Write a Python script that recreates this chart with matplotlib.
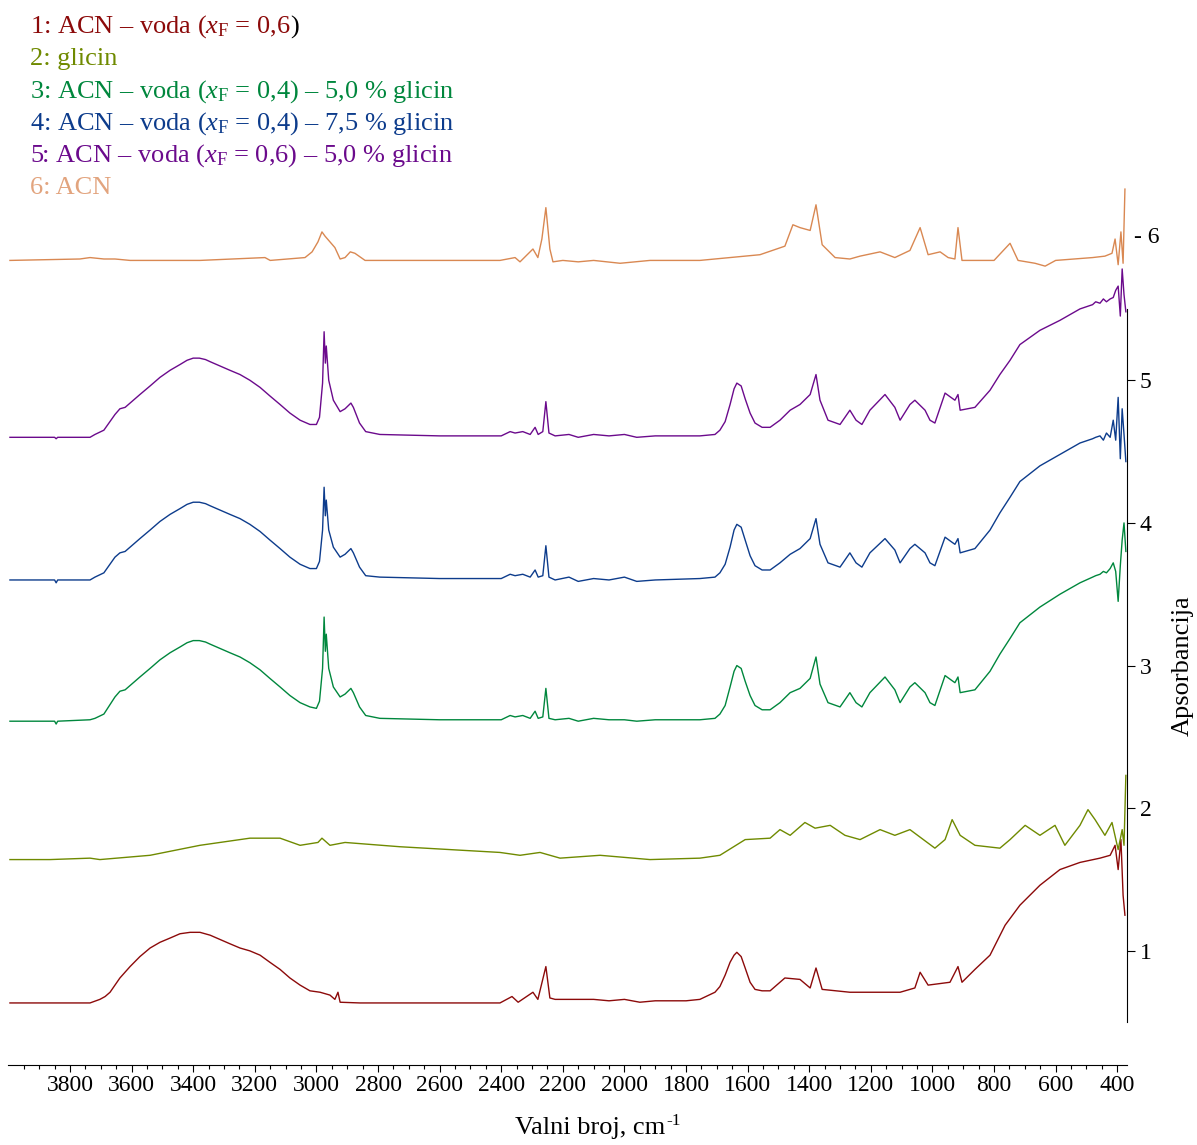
import matplotlib
matplotlib.use('Agg')
import matplotlib.pyplot as plt
import matplotlib.transforms as mtransforms
import numpy as np

plt.rcParams['font.family'] = 'Liberation Serif'
plt.rcParams['mathtext.fontset'] = 'custom'
plt.rcParams['mathtext.rm'] = 'Liberation Serif'
plt.rcParams['mathtext.it'] = 'Liberation Serif:italic'

# 1: ACN - voda (xF = 0,6)
wn1 = [3995, 3735, 3703, 3686, 3670, 3654, 3638, 3605, 3573, 3540,
       3508, 3475, 3443, 3410, 3378, 3345, 3313, 3281, 3248, 3216,
       3183, 3151, 3118, 3086, 3053, 3021, 2988, 2956, 2940, 2930,
       2923, 2859, 2404, 2365, 2345, 2297, 2281, 2255, 2242, 2225,
       2100, 2050, 2000, 1950, 1900, 1800, 1755, 1706, 1690, 1673,
       1657, 1644, 1635, 1621, 1608, 1592, 1576, 1553, 1527, 1479,
       1430, 1397, 1378, 1358, 1268, 1105, 1057, 1040, 1014, 943,
       917, 904, 862, 813, 764, 716, 651, 586, 521, 456,
       423, 407, 397, 388, 381, 375]
a1 = [0.635, 0.635, 0.66, 0.68, 0.71, 0.76, 0.81, 0.89, 0.96, 1.02,
      1.06, 1.09, 1.12, 1.13, 1.13, 1.11, 1.08, 1.05, 1.02, 1.00,
      0.97, 0.92, 0.87, 0.81, 0.76, 0.72, 0.71, 0.69, 0.66, 0.71,
      0.64, 0.635, 0.635, 0.68, 0.64, 0.71, 0.66, 0.89, 0.67, 0.66,
      0.66, 0.65, 0.66, 0.64, 0.65, 0.65, 0.66, 0.71, 0.75, 0.83,
      0.92, 0.97, 0.99, 0.96, 0.88, 0.78, 0.73, 0.72, 0.72, 0.81,
      0.80, 0.74, 0.88, 0.73, 0.71, 0.71, 0.74, 0.85, 0.76, 0.78,
      0.89, 0.78, 0.87, 0.97, 1.18, 1.32, 1.46, 1.57, 1.62, 1.65,
      1.67, 1.74, 1.57, 1.78, 1.39, 1.25]

# 2: glicin
wn2 = [3995, 3865, 3735, 3703, 3540, 3378, 3216, 3118, 3053, 2995,
       2982, 2956, 2907, 2729, 2404, 2339, 2274, 2209, 2079, 1917,
       1755, 1690, 1608, 1527, 1495, 1462, 1414, 1381, 1332, 1284,
       1235, 1170, 1122, 1073, 992, 959, 936, 910, 862, 781,
       748, 699, 651, 602, 570, 521, 495, 472, 440, 417,
       397, 384, 378, 372]
a2 = [1.64, 1.64, 1.65, 1.64, 1.67, 1.74, 1.79, 1.79, 1.74, 1.76,
      1.79, 1.74, 1.76, 1.73, 1.69, 1.67, 1.69, 1.65, 1.67, 1.64,
      1.65, 1.67, 1.78, 1.79, 1.85, 1.81, 1.90, 1.86, 1.88, 1.81,
      1.78, 1.85, 1.81, 1.85, 1.72, 1.78, 1.92, 1.81, 1.74, 1.72,
      1.78, 1.88, 1.81, 1.88, 1.74, 1.88, 1.99, 1.92, 1.81, 1.90,
      1.71, 1.85, 1.74, 2.23]

# 3, 4, 5: ACN - voda - glicin, read on one wavenumber grid
wn_sol = ([3995, 3850, 3845, 3840, 3735, 3719, 3690]
          + [3654, 3638, 3621, 3605, 3573, 3540, 3508, 3475, 3443, 3420, 3400, 3380,
             3360, 3345, 3313, 3281, 3248, 3216, 3183, 3151, 3118, 3086, 3053, 3021]
          + [3000, 2990, 2980, 2975, 2971, 2968, 2960, 2945, 2923, 2907, 2888, 2880,
             2860, 2840, 2794]
          + [2600, 2400, 2371, 2355, 2330, 2306, 2290, 2280, 2265, 2255, 2245, 2225,
             2180, 2150, 2100, 2050, 2000, 1960, 1900]
          + [1755, 1706, 1690, 1673, 1657, 1644, 1635, 1621, 1608, 1592, 1576, 1553, 1527]
          + [1495, 1462, 1430, 1397, 1378, 1365, 1339, 1300, 1268, 1248, 1229, 1203,
             1154, 1122, 1105, 1073, 1057, 1024, 1008, 992, 959, 940, 927, 917, 910,
             862, 813, 781, 748, 716, 651, 586, 521]
          + [480, 470, 456, 445, 435, 423, 413, 405, 397, 390, 384, 378, 372])
a3 = ([2.61, 2.61, 2.59, 2.61, 2.62, 2.63, 2.66]
      + [2.78, 2.82, 2.83, 2.86, 2.92, 2.98, 3.04, 3.09, 3.13, 3.16, 3.175, 3.175,
         3.165, 3.15, 3.12, 3.09, 3.06, 3.02, 2.97, 2.91, 2.85, 2.79, 2.74, 2.71]
      + [2.70, 2.75, 2.98, 3.34, 3.10, 3.22, 2.98, 2.85, 2.78, 2.80, 2.84, 2.81,
         2.71, 2.65, 2.63]
      + [2.62, 2.62, 2.65, 2.64, 2.65, 2.63, 2.68, 2.63, 2.64, 2.84, 2.63, 2.62,
         2.63, 2.61, 2.63, 2.62, 2.62, 2.61, 2.62]
      + [2.62, 2.63, 2.66, 2.72, 2.85, 2.96, 3.00, 2.98, 2.89, 2.79, 2.72, 2.69, 2.69]
      + [2.74, 2.81, 2.84, 2.91, 3.06, 2.87, 2.74, 2.71, 2.81, 2.74, 2.71, 2.81,
         2.92, 2.83, 2.74, 2.85, 2.88, 2.81, 2.74, 2.72, 2.93, 2.90, 2.88, 2.92, 2.81,
         2.83, 2.96, 3.08, 3.19, 3.30, 3.41, 3.50, 3.58]
      + [3.62, 3.63, 3.64, 3.66, 3.65, 3.68, 3.72, 3.66, 3.45, 3.70, 3.88, 4.00, 3.80])
a4 = ([3.60, 3.60, 3.58, 3.60, 3.60, 3.62, 3.65]
      + [3.76, 3.79, 3.80, 3.83, 3.89, 3.95, 4.01, 4.06, 4.10, 4.13, 4.145, 4.145,
         4.135, 4.12, 4.09, 4.06, 4.03, 3.99, 3.94, 3.88, 3.82, 3.76, 3.71, 3.68]
      + [3.68, 3.73, 3.95, 4.25, 4.05, 4.16, 3.95, 3.83, 3.76, 3.78, 3.82, 3.79,
         3.69, 3.63, 3.62]
      + [3.61, 3.61, 3.64, 3.63, 3.64, 3.62, 3.67, 3.62, 3.63, 3.84, 3.62, 3.60,
         3.62, 3.59, 3.61, 3.60, 3.62, 3.59, 3.60]
      + [3.61, 3.62, 3.65, 3.71, 3.83, 3.95, 3.99, 3.97, 3.88, 3.77, 3.70, 3.67, 3.67]
      + [3.72, 3.78, 3.82, 3.89, 4.03, 3.85, 3.72, 3.69, 3.79, 3.72, 3.69, 3.79,
         3.89, 3.81, 3.72, 3.82, 3.85, 3.79, 3.72, 3.70, 3.90, 3.87, 3.85, 3.89, 3.79,
         3.82, 3.95, 4.07, 4.18, 4.29, 4.40, 4.48, 4.56]
      + [4.59, 4.60, 4.61, 4.58, 4.63, 4.60, 4.72, 4.58, 4.88, 4.45, 4.80, 4.62, 4.43])
a5 = ([4.60, 4.60, 4.59, 4.60, 4.60, 4.62, 4.65]
      + [4.76, 4.80, 4.81, 4.84, 4.90, 4.96, 5.02, 5.07, 5.11, 5.14, 5.155, 5.155,
         5.145, 5.13, 5.10, 5.07, 5.04, 5.00, 4.95, 4.89, 4.83, 4.77, 4.72, 4.69]
      + [4.69, 4.74, 4.98, 5.34, 5.12, 5.24, 5.00, 4.86, 4.78, 4.80, 4.84, 4.81,
         4.70, 4.64, 4.62]
      + [4.61, 4.61, 4.64, 4.63, 4.64, 4.62, 4.67, 4.62, 4.64, 4.85, 4.63, 4.61,
         4.62, 4.60, 4.62, 4.61, 4.62, 4.60, 4.61]
      + [4.61, 4.62, 4.65, 4.71, 4.83, 4.94, 4.98, 4.96, 4.87, 4.77, 4.70, 4.67, 4.67]
      + [4.72, 4.79, 4.83, 4.90, 5.04, 4.86, 4.72, 4.69, 4.79, 4.72, 4.69, 4.79,
         4.90, 4.81, 4.72, 4.83, 4.86, 4.79, 4.72, 4.70, 4.91, 4.88, 4.86, 4.90, 4.79,
         4.81, 4.93, 5.04, 5.14, 5.25, 5.35, 5.42, 5.50]
      + [5.53, 5.55, 5.54, 5.57, 5.55, 5.57, 5.58, 5.63, 5.66, 5.45, 5.78, 5.60, 5.48])

# 6: ACN
wn6 = [3995, 3768, 3735, 3690, 3654, 3605, 3378, 3167, 3150, 3037,
       3014, 2995, 2982, 2972, 2956, 2940, 2923, 2907, 2890, 2875,
       2842, 2794, 2404, 2355, 2339, 2297, 2281, 2268, 2255, 2242,
       2232, 2200, 2150, 2100, 2014, 1917, 1755, 1560, 1479, 1453,
       1430, 1397, 1378, 1358, 1316, 1268, 1235, 1170, 1122, 1073,
       1040, 1014, 975, 949, 927, 917, 904, 800, 748, 722,
       667, 634, 600, 540, 480, 440, 417, 407, 397, 388,
       381, 375]
a6 = [5.84, 5.85, 5.86, 5.85, 5.85, 5.84, 5.84, 5.86, 5.84, 5.86,
      5.90, 5.97, 6.04, 6.01, 5.97, 5.93, 5.85, 5.86, 5.90, 5.89,
      5.84, 5.84, 5.84, 5.86, 5.83, 5.92, 5.86, 5.99, 6.21, 5.92,
      5.83, 5.84, 5.83, 5.84, 5.82, 5.84, 5.84, 5.88, 5.94, 6.09,
      6.07, 6.05, 6.23, 5.95, 5.86, 5.85, 5.87, 5.90, 5.86, 5.91,
      6.07, 5.88, 5.90, 5.86, 5.85, 6.07, 5.84, 5.84, 5.96, 5.84,
      5.82, 5.80, 5.84, 5.85, 5.86, 5.87, 5.89, 5.99, 5.81, 6.04,
      5.82, 6.34]

labels = ['1: ACN \u2013 voda ($x_\\mathrm{F}$ = 0,6',
          '2: glicin',
          '3: ACN \u2013 voda ($x_\\mathrm{F}$ = 0,4) \u2013 5,0 % glicin',
          '4: ACN \u2013 voda ($x_\\mathrm{F}$ = 0,4) \u2013 7,5 % glicin',
          '5: ACN \u2013 voda ($x_\\mathrm{F}$ = 0,6) \u2013 5,0 % glicin',
          '6: ACN']
line_colors = ['#8c0a0a', '#6f8a00', '#00873d', '#0d3c8c', '#6b0a8c', '#d98852']
text_colors = ['#8c0a0a', '#6f8a00', '#00873d', '#0d3c8c', '#6b0a8c', '#e2a47e']

series = [(wn1, a1), (wn2, a2), (wn_sol, a3), (wn_sol, a4), (wn_sol, a5), (wn6, a6)]

fig = plt.figure(figsize=(11.97, 11.45), dpi=100)
ax = fig.add_axes([8.4 / 1197, 1 - 1065 / 1145, 1119 / 1197, (1065 - 152) / 1145])

for (x, y), c in zip(series, line_colors):
    ax.plot(x, y, color=c, lw=1.0)

ax.set_xlim(4000, 367)
ax.set_ylim(0.2, 6.6)

ax.spines['left'].set_visible(False)
ax.spines['top'].set_visible(False)
ax.spines['right'].set_bounds(0.5, 5.5)
ax.yaxis.tick_right()
ax.set_yticks([1, 2, 3, 4, 5])
ax.tick_params(axis='y', direction='out', length=6, width=0.8, labelsize=17, pad=3)

ax.set_xticks(np.arange(400, 3801, 200))
ax.set_xticks(np.arange(400, 4000, 50), minor=True)
ax.tick_params(axis='x', which='major', direction='out', length=5, width=0.8,
               labelsize=17, pad=2)
ax.tick_params(axis='x', which='minor', direction='out', length=3, width=0.8)

# x label with a plain hyphen in the superscript, as in the original
ax.set_xlabel('Valni broj, cm', fontsize=19)
ax.xaxis.set_label_coords((590 - 8.4) / 1119, -0.057)
ax.annotate('-1', xy=(1, 1), xycoords=ax.xaxis.label, xytext=(1, 3),
            textcoords='offset points', ha='left', va='top', fontsize=12.5,
            annotation_clip=False)

ax.set_ylabel('Apsorbancija', fontsize=19)
ax.yaxis.set_label_position('right')
ax.yaxis.set_label_coords(1.040, (3.0 - 0.2) / 6.4)

trans = mtransforms.blended_transform_factory(ax.transAxes, ax.transData)
ax.text(1.006, 6.0, '- 6', transform=trans, ha='left', va='center', fontsize=17)

for i, (lab, c) in enumerate(zip(labels, text_colors)):
    t = fig.text(30 / 1197, 1 - (33 + 32.2 * i) / 1145, lab, color=c, fontsize=19,
                 ha='left', va='baseline')
    if i == 0:
        ax.annotate(')', xy=(1, 0.5), xycoords=t, ha='left', va='center',
                    fontsize=19, color='black', annotation_clip=False)

fig.savefig('out.png', dpi=100)
